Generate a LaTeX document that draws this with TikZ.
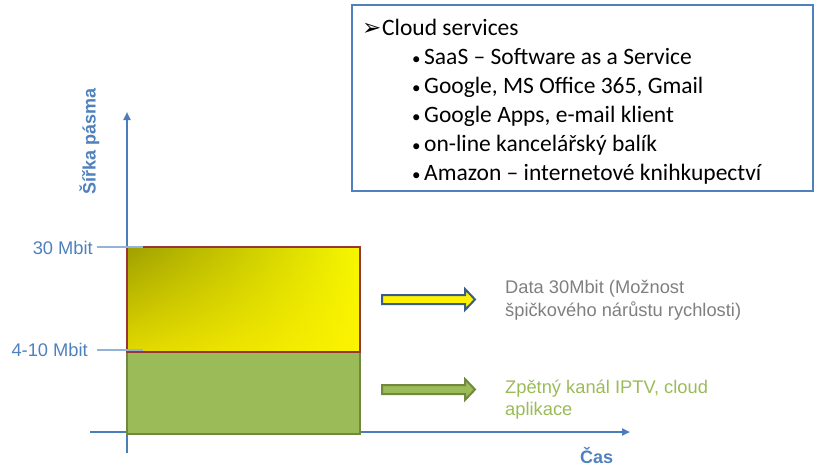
\documentclass[tikz,border=0pt]{standalone}
\usepackage{fontspec}
\setmainfont{Liberation Sans}
\newfontfamily\calib{Carlito}
\newfontfamily\djv{DejaVu Sans}
\usetikzlibrary{arrows.meta,fadings}
\definecolor{axisblue}{HTML}{4A7EBB}
\definecolor{labelblue}{HTML}{4F81BD}
\definecolor{tickblue}{HTML}{95B3D7}
\definecolor{darkred}{HTML}{953735}
\definecolor{greenfill}{HTML}{9BBB59}
\definecolor{greenedge}{HTML}{71893F}
\definecolor{arrowblue}{HTML}{385D8A}
\definecolor{graytext}{HTML}{7F7F7F}
\definecolor{olivedark}{HTML}{A0A000}
\tikzset{
  axisline/.style={draw=axisblue, line width=2pt, -{Triangle[length=8pt,width=7pt]}},
  tickline/.style={draw=tickblue, line width=1.5pt},
  lab/.style={text=labelblue, font=\fontsize{18.3}{22}\selectfont, inner sep=0pt},
  axlab/.style={text=labelblue, font=\fontsize{18}{22}\selectfont\bfseries, inner sep=0pt},
  note/.style={font=\fontsize{18.3}{22}\selectfont, inner sep=0pt, anchor=base west},
  boxtxt/.style={font=\fontsize{23.5}{28}\calib, inner sep=0pt, anchor=base west},
  blockarrow/.style={line width=2pt, line join=miter},
}
\newcommand{\bul}{\makebox[13pt][l]{\hspace{1pt}\fontsize{17}{17}\selectfont\textbullet}}
\begin{document}
\begin{tikzpicture}[x=1pt,y=-1pt]
\useasboundingbox (0,0) rectangle (815,466);

% axes
\coordinate (yb) at (127,453);
\coordinate (yt) at (127,112);
\coordinate (xb) at (90,432);
\coordinate (xt) at (630,432);
\draw[axisline] (yb) -- (yt);
\draw[axisline] (xb) -- (xt);

% bars
\node[draw=greenedge, line width=2pt, fill=greenfill, minimum width=233pt, minimum height=82pt,
      anchor=north west, inner sep=0pt, outer sep=0pt] (back) at (127,352) {};
\node[minimum width=233pt, minimum height=105pt, anchor=north west, inner sep=0pt, outer sep=0pt] (data) at (127,247) {};
\fill[left color=olivedark, right color=yellow!92!olivedark] (data.north west) rectangle (data.south east);
\fill[yellow, fill opacity=0.7, path fading=north] (data.north west) rectangle (data.south east);
\draw[darkred, line width=2.5pt] (data.north west) rectangle (data.south east);

% ticks
\coordinate (t30a) at (97,247);
\coordinate (t30b) at (143,247);
\coordinate (t10a) at (97,350);
\coordinate (t10b) at (143,350);
\draw[tickline] (t30a) -- (t30b);
\draw[tickline] (t10a) -- (t10b);

% axis labels
\node[lab, anchor=base east] (l30) at (93,254) {30 Mbit};
\node[lab, anchor=base east] (l410) at (88,356) {4-10 Mbit};
\node[axlab, rotate=90, anchor=base west] (ylab) at (95.5,195) {Šířka pásma};
\node[axlab, anchor=base west] (xlab) at (580,463) {Čas};

% block arrows
\draw[blockarrow, draw=arrowblue, fill=yellow]
  (382,295) -- (465,295) -- (465,289) -- (475,299.5) -- (465,310) -- (465,304) -- (382,304) -- cycle;
\draw[blockarrow, draw=greenedge, fill=greenfill]
  (382,385) -- (465,385) -- (465,379) -- (475,389.5) -- (465,400) -- (465,394) -- (382,394) -- cycle;

% notes
\node[note, text=graytext] (d1) at (505,293) {Data 30Mbit (Možnost};
\node[note, text=graytext] (d2) at (505,316) {špičkového nárůstu rychlosti)};
\node[note, text=greenfill] (g1) at (505,393) {Zpětný kanál IPTV, cloud};
\node[note, text=greenfill] (g2) at (505,415) {aplikace};

% cloud box
\node[draw=labelblue, line width=2pt, fill=white, minimum width=461pt, minimum height=186pt,
      anchor=north west, inner sep=0pt, outer sep=0pt] (box) at (352,5) {};
\node[boxtxt] (c0) at (362,35) {\makebox[20pt][l]{\fontsize{23}{23}\djv ➢}Cloud services};
\node[boxtxt] (c1) at (411,64) {\bul SaaS – Software as a Service};
\node[boxtxt] (c2) at (411,93) {\bul Google, MS Office 365, Gmail};
\node[boxtxt] (c3) at (411,122) {\bul Google Apps, e-mail klient};
\node[boxtxt] (c4) at (411,151) {\bul on-line kancelářský balík};
\node[boxtxt] (c5) at (411,180) {\bul Amazon – internetové knihkupectví};
\end{tikzpicture}
\end{document}
